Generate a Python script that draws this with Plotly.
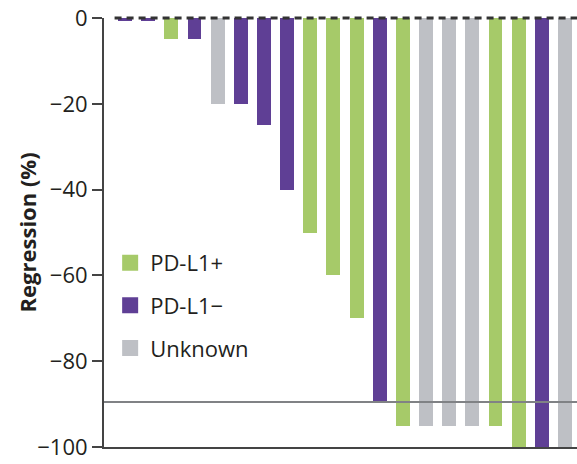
import plotly.graph_objects as go

patients = list(range(1, 21))
regression = [-0.7, -0.7, -5, -5, -20, -20, -25, -40, -50, -60, -70, -89.5,
              -95, -95, -95, -95, -95, -100, -100, -100]
status = ["PD-L1−", "PD-L1−", "PD-L1+", "PD-L1−", "Unknown", "PD-L1−", "PD-L1−", "PD-L1−",
          "PD-L1+", "PD-L1+", "PD-L1+", "PD-L1−", "PD-L1+", "Unknown", "Unknown", "Unknown",
          "PD-L1+", "PD-L1+", "PD-L1−", "Unknown"]
threshold = -89.5
y_ticks = [0, -20, -40, -60, -80, -100]
y_tick_labels = ["0", "−20", "−40", "−60", "−80", "−100"]
y_title = "Regression (%)"

colors = {"PD-L1+": "#a6ca69", "PD-L1−": "#5f3f95", "Unknown": "#bec0c5"}
font = "Open Sans"
narrow = "Liberation Sans Narrow, Open Sans"

fig = go.Figure()
fig.add_trace(go.Bar(
    x=patients, y=regression,
    marker=dict(color=[colors[s] for s in status], line=dict(width=0)),
    width=0.6, showlegend=False, hoverinfo="y"))

for i, name in enumerate(["PD-L1+", "PD-L1−", "Unknown"]):
    fig.add_trace(go.Scatter(
        x=[None], y=[None], mode="markers", name=name, legendgroup=name,
        marker=dict(symbol="square", size=16, color=colors[name])))

# dashed zero line (yref paper so it is not clipped at the plot top)
fig.add_shape(type="line", xref="x", yref="paper", x0=0.55, x1=21, y0=1, y1=1,
              line=dict(color="#333333", width=3, dash="7px,5px"), layer="above")
# threshold line
fig.add_shape(type="line", xref="paper", yref="y", x0=0, x1=1, y0=threshold, y1=threshold,
              line=dict(color="#808285", width=2), layer="above")

# y-axis title as rotated text
fig.add_annotation(text="<b>" + y_title + "</b>", xref="paper", yref="paper",
                   x=-0.163, y=0.5, xanchor="center", yanchor="middle", textangle=-90,
                   showarrow=False, font=dict(size=22, family=font, color="#231f20"))

fig.update_layout(
    width=577, height=464,
    margin=dict(l=104, r=0, t=18, b=17),
    plot_bgcolor="white", paper_bgcolor="white",
    bargap=0,
    font=dict(family=font, color="#231f20"),
    xaxis=dict(range=[0.093, 20.52], showticklabels=False, ticks="", showgrid=False,
               zeroline=False, showline=True, linecolor="#444444", linewidth=2,
               automargin=False),
    yaxis=dict(range=[-100, 0], tickvals=y_ticks, ticktext=y_tick_labels,
               ticks="outside", ticklen=10, tickwidth=1.5, tickcolor="#444444",
               showgrid=False, zeroline=False, showline=True, linecolor="#444444", linewidth=2,
               automargin=False,
               tickfont=dict(size=22, family=narrow, color="#231f20")),
    legend=dict(x=0.013, y=0.478, xanchor="left", yanchor="top", bgcolor="rgba(0,0,0,0)",
                font=dict(size=22, family=font, color="#231f20"), tracegroupgap=11,
                itemsizing="trace"),
)

# remove the default 8px page margin so the figure fills the window exactly
fig.write_html("out.html", config={"displayModeBar": False},
               post_script="document.body.style.margin='0';document.body.style.overflow='hidden';")
